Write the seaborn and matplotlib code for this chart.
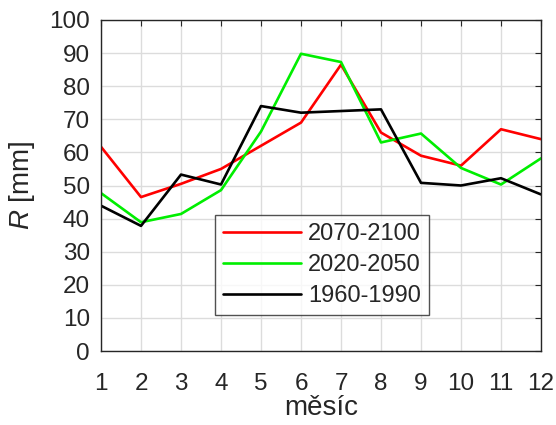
import pandas as pd
import matplotlib.pyplot as plt
import seaborn as sns

mesic = list(range(1, 13))
r_2070 = [61.7, 46.5, 50.5, 55.0, 62.0, 69.0, 86.5, 66.0, 59.0, 56.0, 67.0, 64.0]
r_2020 = [47.7, 38.9, 41.4, 48.6, 66.3, 89.8, 87.3, 63.0, 65.7, 55.3, 50.3, 58.2]
r_1960 = [43.9, 37.8, 53.3, 50.3, 74.0, 72.0, 72.5, 73.0, 50.8, 50.0, 52.2, 47.3]
obdobi = ["2070-2100", "2020-2050", "1960-1990"]
barvy = ["#ff0000", "#00ee00", "#000000"]

df = pd.DataFrame({
    "mesic": mesic * 3,
    "R": r_2070 + r_2020 + r_1960,
    "obdobi": [obdobi[0]] * 12 + [obdobi[1]] * 12 + [obdobi[2]] * 12,
})

sns.set_style("white")
plt.rcParams["font.family"] = ["Liberation Sans", "DejaVu Sans"]
plt.rcParams["mathtext.fontset"] = "custom"
plt.rcParams["mathtext.it"] = "Liberation Sans:italic"
plt.rcParams["mathtext.rm"] = "Liberation Sans"

fig = plt.figure(figsize=(5.56, 4.25), dpi=100)
ax = fig.add_axes([101 / 556, 1 - 351 / 425, 440 / 556, 331 / 425])

sns.lineplot(data=df, x="mesic", y="R", hue="obdobi", hue_order=obdobi,
             palette=barvy, linewidth=1.9, ax=ax)

ax.set_xlim(1, 12)
ax.set_ylim(0, 100)
ax.set_xticks(mesic)
ax.set_yticks(range(0, 101, 10))
ax.grid(True, color="#dcdcdc", linewidth=1)
ax.tick_params(direction="in", length=4, top=True, right=True,
               labelsize=17.5, colors="#262626")
ax.tick_params(axis="x", pad=16)
ax.tick_params(axis="y", pad=8)
for s in ax.spines.values():
    s.set_color("#262626")
    s.set_linewidth(1)

ax.set_xlabel("měsíc", fontsize=20, color="#262626", labelpad=0)
ax.set_ylabel("$R$ [mm]", fontsize=20, color="#262626", labelpad=9)

leg = ax.legend(loc="upper left", bbox_to_anchor=(114 / 440, 136 / 331),
                fontsize=17, frameon=True, fancybox=False, handlelength=3.3,
                handletextpad=0.3, borderpad=0.35, labelspacing=0.38,
                borderaxespad=0)
leg.get_frame().set_edgecolor("#262626")
leg.get_frame().set_linewidth(1)
for line in leg.get_lines():
    line.set_linewidth(1.9)

plt.savefig("out.png", dpi=100)
